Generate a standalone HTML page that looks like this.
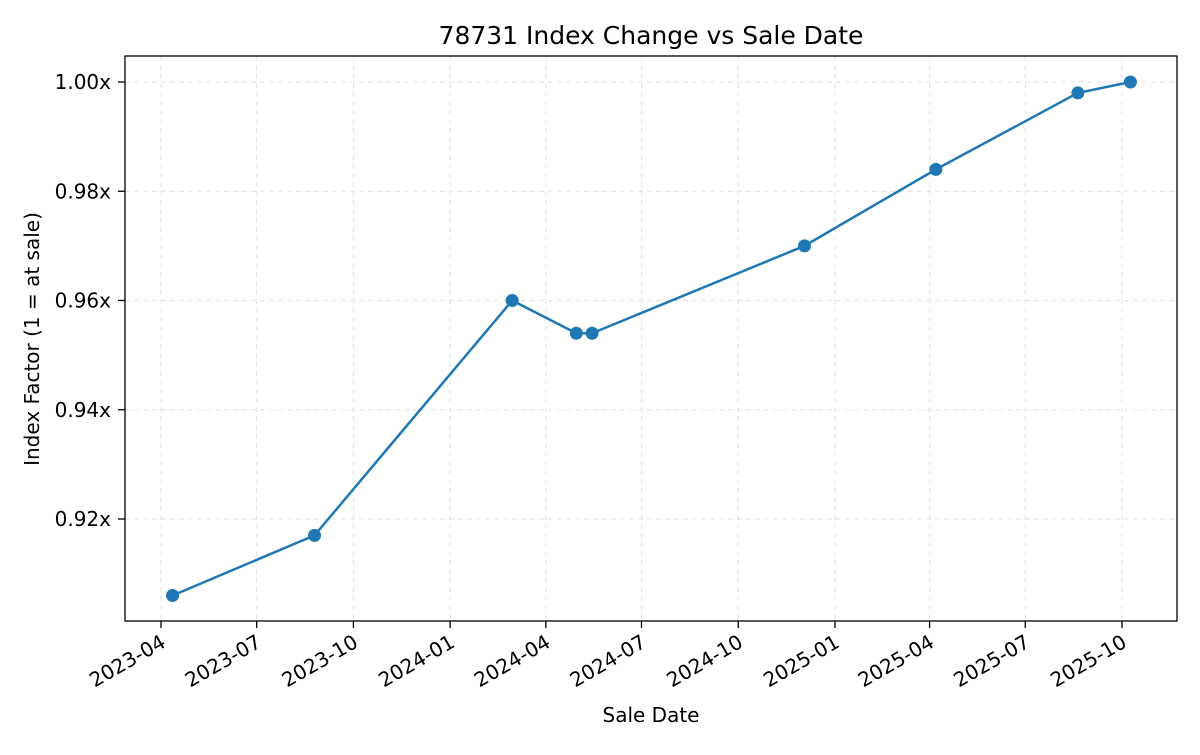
<!DOCTYPE html>
<html><head><meta charset="utf-8">
<style>
body{margin:0;background:#fff;}
svg text{font-family:"DejaVu Sans","Liberation Sans",sans-serif;fill:#000;}
</style></head>
<body>
<svg id="chart" width="1200" height="750" xmlns="http://www.w3.org/2000/svg">
<rect width="1200" height="750" fill="#fff"/>
<text x="651" y="44" font-size="25" text-anchor="middle">78731 Index Change vs Sale Date</text>
<text x="651" y="722" font-size="20" text-anchor="middle">Sale Date</text>
<text transform="translate(39,339) rotate(-90)" font-size="20" text-anchor="middle">Index Factor (1 = at sale)</text>
<g id="grid"></g>
<g id="axes"></g>
<g id="series"></g>
<rect x="125" y="56" width="1052" height="565" fill="none" stroke="#000" stroke-width="1.3"/>
</svg>
<script>
const dates = ["2023-04-12","2023-08-25","2024-02-29","2024-04-30","2024-05-15","2024-12-03","2025-04-07","2025-08-20","2025-10-09"];
const values = [0.906,0.917,0.960,0.954,0.954,0.970,0.984,0.998,1.000];
const xTickLabels = ["2023-04","2023-07","2023-10","2024-01","2024-04","2024-07","2024-10","2025-01","2025-04","2025-07","2025-10"];
const yTicks = [0.92,0.94,0.96,0.98,1.00];

const NS="http://www.w3.org/2000/svg";
const base=Date.UTC(2023,3,1);
function day(s){const p=s.split("-").map(Number);return (Date.UTC(p[0],p[1]-1,p[2]||1)-base)/86400000;}
const pxPerDay=961/914;
function xs(s){return 161+day(s)*pxPerDay;}
function ys(v){return 82+(1-v)/0.02*109.25;}
function mk(tag,attrs,parent){const e=document.createElementNS(NS,tag);for(const k in attrs)e.setAttribute(k,attrs[k]);parent.appendChild(e);return e;}
const grid=document.getElementById("grid"),axes=document.getElementById("axes"),ser=document.getElementById("series");

xTickLabels.forEach(t=>{
  const x=xs(t+"-01");
  const g=mk("line",{x1:x,x2:x,y1:56,y2:621,stroke:"#e0e0e0","stroke-dasharray":"5,4","stroke-width":1},grid);
  
  
  const tk=mk("line",{x1:x,x2:x,y1:621,y2:628,stroke:"#000","stroke-width":1.3},axes);
  
  
  const tx=mk("text",{x:x+6,y:646,"font-size":"20","text-anchor":"end",transform:`rotate(-30 ${x+6} 646)`},axes);
  tx.textContent=t;
  
  
});
yTicks.forEach(v=>{
  const y=ys(v);
  const g=mk("line",{x1:125,x2:1177,y1:y,y2:y,stroke:"#e0e0e0","stroke-dasharray":"5,4","stroke-width":1},grid);
  
  
  const tk=mk("line",{x1:118,x2:125,y1:y,y2:y,stroke:"#000","stroke-width":1.3},axes);
  
  
  const tx=mk("text",{x:111,y:y+7,"font-size":"20","text-anchor":"end"},axes);
  tx.textContent=v.toFixed(2)+"x";
  
  
});
const pts=dates.map((d,i)=>xs(d)+","+ys(values[i])).join(" ");
const line=mk("polyline",{points:pts,fill:"none",stroke:"#1f77b4","stroke-width":2.5},ser);


dates.forEach((d,i)=>{
  const c=mk("circle",{cx:xs(d),cy:ys(values[i]),r:6.5,fill:"#1f77b4"},ser);
  
  
});
</script>
</body></html>
